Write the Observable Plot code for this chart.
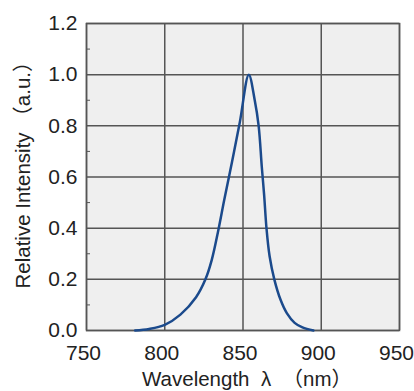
<!DOCTYPE html>
<html>
<head>
<meta charset="utf-8">
<script src="https://cdn.jsdelivr.net/npm/d3@7"></script>
<script src="https://cdn.jsdelivr.net/npm/@observablehq/plot@0.6"></script>
<style>
  html, body { margin: 0; padding: 0; background: #fff; }
</style>
</head>
<body>
<div id="chart"></div>
<script>
const xTicks = [750, 800, 850, 900, 950];
const yTicks = [0, 0.2, 0.4, 0.6, 0.8, 1.0, 1.2];
const yMinor = [0.1, 0.3, 0.5, 0.7, 0.9, 1.1];
const wavelength = [781, 790, 800, 810, 820, 826, 830, 834, 838, 843, 848, 853.7, 857.5, 860, 862, 863.5, 865, 867, 870, 874, 878, 883, 888, 895];
const intensity  = [0, 0.006, 0.022, 0.062, 0.13, 0.2, 0.275, 0.385, 0.51, 0.66, 0.815, 1.0, 0.9, 0.8, 0.64, 0.53, 0.40, 0.29, 0.2, 0.12, 0.068, 0.03, 0.012, 0];
const xTitle = "Wavelength  λ  （nm）";
const yTitle = "Relative Intensity （a.u.）";

const data = wavelength.map((w, i) => ({w, v: intensity[i]}));

const chart = Plot.plot({
  width: 414,
  height: 391,
  marginLeft: 86,
  marginRight: 15,
  marginTop: 23,
  marginBottom: 61,
  style: {fontFamily: "'Liberation Sans', Arial, 'Noto Sans CJK JP', sans-serif", fontSize: "21px", color: "#222", background: "#fff"},
  x: {domain: [750, 950]},
  y: {domain: [0, 1.2]},
  marks: [
    Plot.frame({fill: "#efefef", stroke: "none"}),
    Plot.ruleX(xTicks, {stroke: "#555", strokeWidth: 1.5}),
    Plot.ruleY(yTicks, {stroke: "#555", strokeWidth: 1.5}),
    Plot.axisY({ticks: yMinor, tickSize: -4, tickFormat: () => "", stroke: "#555", label: null}),
    Plot.frame({stroke: "#555", strokeWidth: 1.5}),
    Plot.line(data, {x: "w", y: "v", stroke: "#1b4a8c", strokeWidth: 2.5, curve: "catmull-rom"}),
    Plot.axisX({ticks: xTicks, tickSize: 0, tickPadding: 15, dx: -3, tickFormat: d => String(d), label: null, fill: "#222"}),
    Plot.axisY({ticks: yTicks, tickSize: 0, tickPadding: 9, tickFormat: d => d.toFixed(1), label: null, fill: "#222"}),
    Plot.text([xTitle], {frameAnchor: "bottom", dy: 49, dx: 4, lineAnchor: "middle", textAnchor: "middle", fill: "#222", fontSize: 20.5}),
    Plot.text([yTitle], {frameAnchor: "left", textAnchor: "middle", rotate: -90, dx: -63, dy: -7, lineAnchor: "middle", fill: "#222", fontSize: 20.5})
  ]
});
document.getElementById("chart").appendChild(chart);
</script>
</body>
</html>
